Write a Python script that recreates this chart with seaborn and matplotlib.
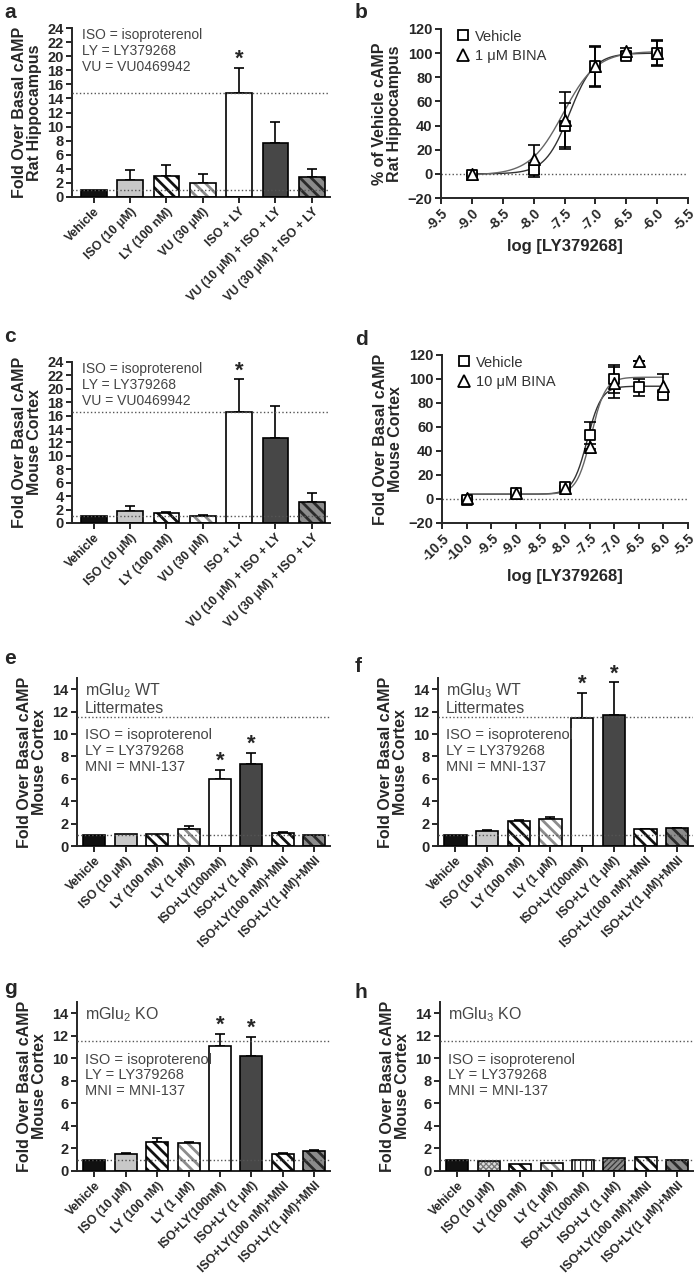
import numpy as np
import matplotlib
matplotlib.use('Agg')
import matplotlib.pyplot as plt
import seaborn as sns
from matplotlib.lines import Line2D

sns.set_style('ticks')
plt.rcParams['font.family'] = ['Liberation Sans', 'DejaVu Sans']
plt.rcParams['mathtext.default'] = 'regular'
plt.rcParams['hatch.linewidth'] = 2.0
plt.rcParams['axes.linewidth'] = 1.4
plt.rcParams['xtick.major.width'] = 1.4
plt.rcParams['ytick.major.width'] = 1.4

# ---- bar chart data ----
labels_ac = ['Vehicle', 'ISO (10 μM)', 'LY (100 nM)', 'VU (30 μM)', 'ISO + LY',
             'VU (10 μM) + ISO + LY', 'VU (30 μM) + ISO + LY']
a_mean = [1.0, 2.4, 3.0, 2.0, 14.7, 7.7, 2.8]
a_err = [0, 1.4, 1.5, 1.2, 3.6, 2.9, 1.2]
c_mean = [1.0, 1.8, 1.5, 1.0, 16.6, 12.6, 3.1]
c_err = [0, 0.8, 0.2, 0.15, 4.8, 4.8, 1.4]

labels_eh = ['Vehicle', 'ISO (10 μM)', 'LY (100 nM)', 'LY (1 μM)', 'ISO+LY(100nM)',
             'ISO+LY (1 μM)', 'ISO+LY(100 nM)+MNI', 'ISO+LY(1 μM)+MNI']
e_mean = [1.0, 1.05, 1.1, 1.5, 6.0, 7.3, 1.2, 0.95]
e_err = [0, 0, 0, 0.3, 0.8, 1.0, 0.05, 0]
f_mean = [1.0, 1.35, 2.2, 2.4, 11.4, 11.7, 1.5, 1.6]
f_err = [0, 0.1, 0.1, 0.2, 2.3, 2.9, 0.05, 0.05]
g_mean = [1.0, 1.55, 2.55, 2.45, 11.1, 10.2, 1.55, 1.8]
g_err = [0, 0.05, 0.35, 0.1, 1.1, 1.7, 0.05, 0.05]
h_mean = [1.0, 0.9, 0.6, 0.75, 0.95, 1.15, 1.25, 0.95]
h_err = [0, 0, 0, 0, 0, 0, 0, 0]

# ---- concentration-response data ----
log_dose_b = [-9.0, -8.0, -7.5, -7.0, -6.5, -6.0]
b_veh = [-1, 3, 40, 89, 98, 100]
b_veh_err = [1, 6, 19, 16, 3, 11]
b_bina = [0, 12, 45, 89, 102, 100]
b_bina_err = [1, 12, 23, 17, 2, 10]
# fitted curve params: bottom, top, logEC50, hill
b_veh_fit = [0, 100, -7.42, 2.2]
b_bina_fit = [-1, 101.5, -7.52, 1.6]

log_dose_d = [-10.0, -9.0, -8.0, -7.5, -7.0, -6.5, -6.0]
d_veh = [-1, 5, 10, 53, 100, 93, 87]
d_veh_err = [1, 1, 1, 11, 12, 7, 2]
d_bina = [1, 5, 9, 43, 97, 115, 94]
d_bina_err = [1, 1, 1, 3, 13, 0, 10]
d_veh_fit = [4, 94, -7.55, 3.0]
d_bina_fit = [4, 101.5, -7.47, 3.0]

# bar fill styles: (face, hatch, hatch colour)
BLK, LG, DG, MG = '#111111', '#c8c8c8', '#474747', '#8c8c8c'
ST = '\\\\\\'
styles_ac = [(BLK, '', BLK), (LG, '', LG), ('white', ST, BLK), ('white', ST, MG),
             ('white', '', 'white'), (DG, '', DG), (MG, ST, '#2a2a2a')]
styles_eg = [(BLK, '', BLK), (LG, '', LG), ('white', ST, BLK), ('white', ST, MG),
             ('white', '', 'white'), (DG, '', DG), ('white', ST, BLK), (MG, ST, '#2a2a2a')]
styles_h = [(BLK, '', BLK), ('#dddddd', 'xxxxxx', '#777777'), ('white', ST, BLK), ('white', ST, MG),
            ('white', '|||', BLK), (MG, '//////', '#333333'), ('white', ST, BLK), (MG, ST, '#2a2a2a')]
THIN = ('xxxxxx', '//////', '|||')

W, H = 700, 1279
fig = plt.figure(figsize=(W / 100, H / 100), dpi=100)


def px_axes(l, r, top, bot):
    return fig.add_axes([l / W, 1 - bot / H, (r - l) / W, (bot - top) / H])


def style_axes(ax):
    sns.despine(ax=ax)
    ax.tick_params(axis='both', direction='out', length=4, pad=2)
    for t in ax.get_yticklabels():
        t.set_fontsize(10.5)
        t.set_fontweight('bold')


def draw_bars(ax, labels, means, errs, styles, stars, reflines, ylim, yticks, ylabel, xlim):
    pal = {lab: s[0] for lab, s in zip(labels, styles)}
    sns.barplot(x=labels, y=means, hue=labels, palette=pal, legend=False,
                width=0.7, linewidth=0, ax=ax, zorder=2)
    for patch, (face, hatch, hc) in zip(ax.patches, styles):
        patch.set_facecolor(face)
        patch.set_edgecolor(hc)
        patch.set_hatch(hatch)
        if hatch in THIN and hasattr(patch, 'set_hatch_linewidth'):
            patch.set_hatch_linewidth(0.9)
    x = np.arange(len(labels))
    ax.bar(x, means, width=0.7, fill=False, edgecolor='black', linewidth=1.2, zorder=3)
    m = np.array(errs) > 0
    ax.errorbar(x[m], np.array(means)[m], yerr=[np.zeros(m.sum()), np.array(errs)[m]],
                fmt='none', ecolor='black', elinewidth=1.2, capsize=3.5, capthick=1.2, zorder=1)
    for i in stars:
        ax.text(i, means[i] + errs[i] + 0.05 * (ylim[1] - ylim[0]), '*', ha='center', va='center',
                fontsize=16, fontweight='bold')
    for r in reflines:
        ax.axhline(r, color='#555555', linestyle=':', linewidth=1.0, zorder=4)
    ax.set_xlim(*xlim)
    ax.set_ylim(*ylim)
    ax.set_yticks(yticks)
    ax.set_ylabel(ylabel, fontsize=11.5, fontweight='bold', linespacing=1.0)
    ax.set_xlabel('')
    ax.set_xticks(x)
    ax.set_xticklabels(labels, rotation=45, ha='right', rotation_mode='anchor',
                       fontsize=8.8, fontweight='bold')
    style_axes(ax)


def hill(p, xs):
    bottom, top, ec50, n = p
    return bottom + (top - bottom) / (1 + 10 ** ((ec50 - xs) * n))


def draw_crc(ax, dose, veh, veh_err, bina, bina_err, fit_v, fit_b, bina_lab, ylabel, xticks):
    xs = np.linspace(dose[0], dose[-1], 300)
    ax.axhline(0, color='#555555', linestyle=':', linewidth=1.0)
    sns.lineplot(x=xs, y=hill(fit_v, xs), color='#333333', linewidth=1.0, ax=ax)
    sns.lineplot(x=xs, y=hill(fit_b, xs), color='#666666', linewidth=1.0, ax=ax)
    ax.errorbar(dose, veh, yerr=veh_err, fmt='none', ecolor='black', elinewidth=1.2,
                capsize=4.5, capthick=1.2)
    ax.errorbar(dose, bina, yerr=bina_err, fmt='none', ecolor='black', elinewidth=1.2,
                capsize=4.5, capthick=1.2)
    sns.scatterplot(x=dose, y=veh, marker='s', s=60, facecolor='white', edgecolor='black',
                    linewidth=1.3, ax=ax, zorder=5)
    sns.scatterplot(x=dose, y=bina, marker='^', s=65, facecolor='white', edgecolor='black',
                    linewidth=1.3, ax=ax, zorder=6)
    ax.set_xlim(xticks[0], xticks[-1])
    ax.set_ylim(-20, 120)
    ax.set_yticks(np.arange(-20, 121, 20))
    ax.set_xticks(xticks)
    ax.set_xticklabels([f'{v:.1f}' for v in xticks], rotation=45, ha='right',
                       rotation_mode='anchor', fontsize=10, fontweight='bold')
    ax.set_xlabel('log [LY379268]', fontsize=12, fontweight='bold')
    ax.set_ylabel(ylabel, fontsize=11.5, fontweight='bold', linespacing=1.0)
    handles = [Line2D([], [], marker='s', ls='', mfc='white', mec='black', ms=7.5, mew=1.3),
               Line2D([], [], marker='^', ls='', mfc='white', mec='black', ms=8, mew=1.3)]
    ax.legend(handles, ['Vehicle', bina_lab], loc='upper left', frameon=False, fontsize=10.5,
              handletextpad=0.3, handlelength=1.0, borderaxespad=0.1, labelspacing=0.35,
              bbox_to_anchor=(0.03, 1.04), labelcolor='#333333')
    style_axes(ax)


note_ac = 'ISO = isoproterenol\nLY = LY379268\nVU = VU0469942'
note_eh = 'ISO = isoproterenol\nLY = LY379268\nMNI = MNI-137'

# a
ax = px_axes(72, 330, 28, 197)
draw_bars(ax, labels_ac, a_mean, a_err, styles_ac, [4], [14.7, 1.0], (0, 24), np.arange(0, 25, 2),
          'Fold Over Basal cAMP\nRat Hippocampus', (-0.6, 6.5))
ax.text(0.04, 1.0, note_ac, transform=ax.transAxes, va='top', fontsize=10, color='#444444', linespacing=1.2)

# b
ax = px_axes(441, 688, 29, 198)
draw_crc(ax, log_dose_b, b_veh, b_veh_err, b_bina, b_bina_err, b_veh_fit, b_bina_fit,
         '1 μM BINA', '% of Vehicle cAMP\nRat Hippocampus', np.arange(-9.5, -5.49, 0.5))

# c
ax = px_axes(72, 330, 362, 523)
draw_bars(ax, labels_ac, c_mean, c_err, styles_ac, [4], [16.6, 1.0], (0, 24), np.arange(0, 25, 2),
          'Fold Over Basal cAMP\nMouse Cortex', (-0.6, 6.5))
ax.text(0.04, 1.0, note_ac, transform=ax.transAxes, va='top', fontsize=10, color='#444444', linespacing=1.2)

# d
ax = px_axes(442, 688, 355, 523)
draw_crc(ax, log_dose_d, d_veh, d_veh_err, d_bina, d_bina_err, d_veh_fit, d_bina_fit,
         '10 μM BINA', 'Fold Over Basal cAMP\nMouse Cortex', np.arange(-10.5, -5.49, 0.5))

# e - h
panels_eh = [
    ((77, 330, 678, 846), e_mean, e_err, styles_eg, [4, 5], 'mGlu$_2$ WT\nLittermates'),
    ((438, 693, 678, 846), f_mean, f_err, styles_eg, [4, 5], 'mGlu$_3$ WT\nLittermates'),
    ((77, 330, 1002, 1171), g_mean, g_err, styles_eg, [4, 5], 'mGlu$_2$ KO'),
    ((440, 693, 1002, 1171), h_mean, h_err, styles_h, [], 'mGlu$_3$ KO'),
]
for (l, r, t, b), mean, err, sty, stars, title in panels_eh:
    ax = px_axes(l, r, t, b)
    draw_bars(ax, labels_eh, mean, err, sty, stars, [11.5, 1.0], (0, 15), np.arange(0, 15, 2),
              'Fold Over Basal cAMP\nMouse Cortex', (-0.55, 7.5))
    ax.text(0.03, 0.98, title, transform=ax.transAxes, va='top', fontsize=11.5,
            color='#444444', linespacing=1.05)
    ax.text(0.03, 0.70, note_eh, transform=ax.transAxes, va='top', fontsize=10.5,
            color='#444444', linespacing=1.15)

# panel letters
for lab, xp, yp in [('a', 4, 12), ('b', 355, 12), ('c', 4, 337), ('d', 355, 340),
                    ('e', 4, 658), ('f', 355, 667), ('g', 4, 988), ('h', 355, 992)]:
    fig.text(xp / W, 1 - yp / H, lab, fontsize=15, fontweight='bold', va='center', ha='left')

fig.savefig('out.png', dpi=100)
